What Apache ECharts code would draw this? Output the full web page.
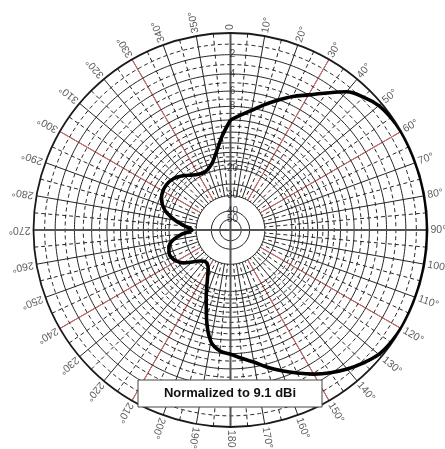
<!DOCTYPE html>
<html><head><meta charset="utf-8">
<script src="https://cdn.jsdelivr.net/npm/echarts/dist/echarts.min.js"></script>
<style>html,body{margin:0;padding:0;background:#fff}#c{width:445px;height:449px}</style>
</head><body><div id="c"></div>
<script>
// ---- data ----
const patternAngles = [0,5,10,15,20,25,30,35,40,45,50,55,60,65,70,75,80,85,90,95,100,105,110,115,120,125,130,135,140,145,150,155,160,165,170,175,180,185,190,195,200,205,210,215,220,225,230,235,240,245,250,255,260,265,270,275,280,285,290,295,300,305,310,315,320,325,330,335,340,345,350,355];
const patternDb = [10.0,9.2,8.3,7.2,6.1,5.0,4.0,2.8,1.5,0.8,0.3,0.1,0,0,0,0,0,0,0,0,0,0,0,0,0,0.1,0.3,0.8,1.4,2.1,2.9,3.8,4.7,5.6,6.6,7.3,7.9,8.3,9.5,13.0,17.5,22.0,25.5,27.0,27.0,25.8,23.6,21.2,19.8,19.0,18.9,19.4,20.8,23.8,28.0,25.0,21.5,18.8,17.2,16.3,15.9,15.8,16.0,16.6,17.5,18.5,19.2,19.5,19.0,17.8,15.5,12.6];
const ringDbSolid = [2,4,6,8,10,12,14,16,18,20,25,30,40,50];
const ringDbDashed = [1,3,5,7,9,11,13,15,17,19];
const radialLabelDb = [2,4,6,8,20,30,40,50];
const angleLabelDeg = [0,10,20,30,40,50,60,70,80,90,100,110,120,130,140,150,160,170,180,190,200,210,220,230,240,250,260,270,280,290,300,310,320,330,340,350];
const angleLabelText = ['0','10°','20°','30°','40°','50°','60°','70°','80°','90°','100°','110°','120°','130°','140°','150°','160°','170°','180','190°','200°','210°','220°','230°','240°','250°','260°','270°','280°','290°','300°','310°','320°','330°','340°','350°'];
const legendText = 'Normalized to 9.1 dBi';

// ARRL log-periodic radial scale: each 2 dB -> 0.89
const toR = db => Math.pow(0.89, db / 2);

const CENTER = [230.5, 230];
const R = 197;
const rInner = R * toR(30);
const FONT = '"Liberation Sans", Arial, sans-serif';
const GRID = '#262626';

const chart = echarts.init(document.getElementById('c'), null, {renderer: 'canvas'});

function ringSeries(db, dashed) {
  const data = [];
  for (let a = 0; a <= 360; a += 1) data.push([toR(db), a]);
  return {
    type: 'line', coordinateSystem: 'polar', polarIndex: 0, silent: true,
    symbol: 'none', data: data, z: 1,
    lineStyle: {color: GRID, width: 1, type: dashed ? [4, 3] : 'solid'}
  };
}

const series = [];
ringDbSolid.forEach(d => series.push(ringSeries(d, false)));
ringDbDashed.forEach(d => series.push(ringSeries(d, true)));

const pData = patternAngles.map((a, i) => [toR(patternDb[i]), a]);
pData.push([toR(patternDb[0]), 360]);
series.push({
  type: 'line', coordinateSystem: 'polar', polarIndex: 0, silent: true,
  symbol: 'none', smooth: 0.35, data: pData, z: 10,
  lineStyle: {color: '#000', width: 3.6}
});

series.push({
  type: 'scatter', coordinateSystem: 'polar', polarIndex: 0, silent: true,
  symbolSize: 1, itemStyle: {color: 'rgba(0,0,0,0)'}, z: 12,
  data: radialLabelDb.map(d => ({value: [toR(d), 0], name: String(d)})),
  label: {show: true, position: 'inside', formatter: p => p.name, offset: [2, 0],
    fontSize: 10, fontFamily: FONT, color: '#1a1a2a'}
});

series.push({
  type: 'scatter', coordinateSystem: 'polar', polarIndex: 4, silent: true,
  symbolSize: 1, itemStyle: {color: 'rgba(0,0,0,0)'}, z: 12,
  data: angleLabelDeg.map((a, i) => ({
    value: [1, a], name: angleLabelText[i],
    label: {rotate: 90 - a}
  })),
  label: {show: true, position: 'inside', formatter: p => p.name, align: 'left', verticalAlign: 'middle',
    fontSize: 10.5, fontFamily: FONT, color: '#333'}
});

const hiddenRadius = i => ({polarIndex: i, type: 'value', min: 0, max: 1, show: false});

const option = {
  animation: false,
  backgroundColor: '#fff',
  polar: [
    {center: CENTER, radius: [0, R]},
    {center: CENTER, radius: [rInner, R]},
    {center: CENTER, radius: [rInner, R]},
    {center: CENTER, radius: [rInner, R]},
    {center: CENTER, radius: [0, R + 3]}
  ],
  radiusAxis: [hiddenRadius(0), hiddenRadius(1), hiddenRadius(2), hiddenRadius(3), hiddenRadius(4)],
  angleAxis: [
    {polarIndex: 0, type: 'value', min: 0, max: 360, interval: 90, startAngle: 90, clockwise: true, z: 3,
      axisLine: {show: true, lineStyle: {color: '#1a1a1a', width: 1.8}}, axisTick: {show: false}, axisLabel: {show: false},
      splitLine: {show: true, lineStyle: {color: '#555', width: 2}}},
    {polarIndex: 1, type: 'value', min: 0, max: 360, interval: 10, startAngle: 90, clockwise: true, z: 0,
      axisLine: {show: false}, axisTick: {show: false}, axisLabel: {show: false},
      splitLine: {show: true, lineStyle: {color: GRID, width: 1}}},
    {polarIndex: 2, type: 'value', min: 5, max: 365, interval: 10, startAngle: 85, clockwise: true, z: 0,
      axisLine: {show: false}, axisTick: {show: false}, axisLabel: {show: false},
      splitLine: {show: true, lineStyle: {color: GRID, width: 1, type: [4, 3]}}},
    {polarIndex: 3, type: 'value', min: 0, max: 360, interval: 30, startAngle: 90, clockwise: true, z: 1,
      axisLine: {show: false}, axisTick: {show: false}, axisLabel: {show: false},
      splitLine: {show: true, lineStyle: {color: '#e36a6a', width: 1}}},
    {polarIndex: 4, type: 'value', min: 0, max: 360, startAngle: 90, clockwise: true, show: false}
  ],
  graphic: [
    {type: 'rect', x: 138, y: 380, z: 100, shape: {x: 0, y: 0, width: 184, height: 27},
      style: {fill: '#fff', stroke: '#444', lineWidth: 1}},
    {type: 'text', x: 230, y: 393.5, z: 101,
      style: {text: legendText, font: 'bold 13px ' + FONT, fill: '#111',
        align: 'center', verticalAlign: 'middle', textAlign: 'center', textVerticalAlign: 'middle'}}
  ],
  series: series
};
chart.setOption(option);
</script>
</body></html>
